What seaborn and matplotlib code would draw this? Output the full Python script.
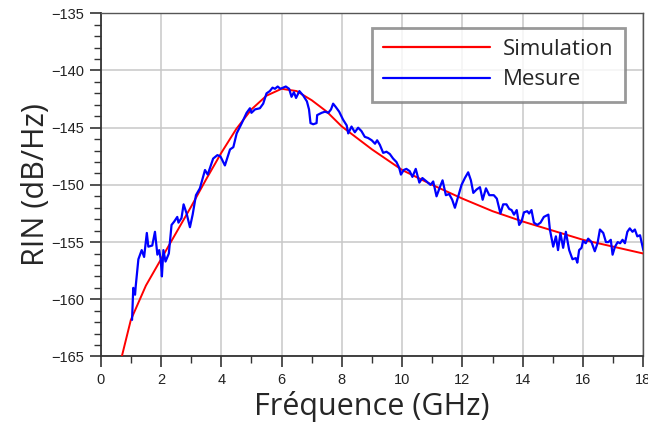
import matplotlib
matplotlib.use("Agg")
import matplotlib.pyplot as plt
import seaborn as sns
import pandas as pd
from matplotlib.ticker import MultipleLocator

# ---- data ----
sim_freq = [0.70, 1.0, 1.5, 2.0, 2.5, 3.0, 3.5, 4.0, 4.5, 5.0, 5.5, 6.0, 6.5,
            7.0, 7.5, 8.0, 8.5, 9.0, 9.5, 10, 11, 12, 13, 14, 15, 16, 17, 18]
sim_rin = [-165.0, -161.8, -158.8, -156.5, -154.2, -151.9, -149.5, -147.2,
           -145.1, -143.4, -142.2, -141.6, -141.8, -142.6, -143.6, -144.9,
           -145.9, -146.9, -147.8, -148.7, -150.0, -151.2, -152.3, -153.2,
           -154.0, -154.8, -155.4, -156.0]

meas_freq = [1.04, 1.08, 1.14, 1.16, 1.25, 1.36, 1.44, 1.53, 1.58, 1.71, 1.80,
             1.88, 1.94, 1.99, 2.03, 2.08, 2.15, 2.26, 2.35, 2.44, 2.54, 2.58,
             2.68, 2.75, 2.85, 2.96, 3.05, 3.16, 3.29, 3.46, 3.55, 3.73, 3.87,
             3.97, 4.12, 4.29, 4.40, 4.51, 4.68, 4.84, 4.95, 5.00, 5.12, 5.28,
             5.39, 5.50, 5.61, 5.70, 5.78, 5.87, 5.96, 6.14, 6.25, 6.33, 6.41,
             6.48, 6.59, 6.72, 6.84, 6.91, 6.96, 7.05, 7.16, 7.18, 7.33, 7.44,
             7.55, 7.64, 7.71, 7.80, 7.91, 8.04, 8.16, 8.21, 8.32, 8.43, 8.54,
             8.65, 8.76, 8.87, 8.99, 9.10, 9.17, 9.26, 9.37, 9.48, 9.59, 9.70,
             9.81, 9.90, 9.96, 10.05, 10.14, 10.25, 10.34, 10.45, 10.57, 10.67,
             10.81, 10.94, 11.03, 11.14, 11.25, 11.34, 11.45, 11.56, 11.66,
             11.75, 11.86, 11.97, 12.08, 12.19, 12.28, 12.36, 12.47, 12.58,
             12.67, 12.78, 12.89, 13.04, 13.14, 13.26, 13.35, 13.46, 13.55,
             13.63, 13.71, 13.80, 13.88, 13.96, 14.04, 14.15, 14.21, 14.29,
             14.37, 14.48, 14.59, 14.70, 14.85, 14.90, 15.01, 15.10, 15.17,
             15.25, 15.34, 15.43, 15.54, 15.65, 15.76, 15.81, 15.87, 15.95,
             16.00, 16.09, 16.17, 16.28, 16.39, 16.48, 16.56, 16.67, 16.76,
             16.84, 16.92, 16.98, 17.06, 17.15, 17.23, 17.31, 17.39, 17.47,
             17.55, 17.64, 17.72, 17.80, 17.89, 17.94, 18.00]
meas_rin = [-161.8, -159.0, -159.6, -158.9, -156.5, -155.7, -156.3, -154.2,
            -155.4, -155.3, -154.1, -156.1, -155.7, -156.5, -158.0, -155.7,
            -156.7, -156.0, -153.5, -153.2, -152.8, -153.3, -152.9, -151.7,
            -152.5, -153.7, -152.6, -150.9, -150.3, -148.7, -149.1, -147.7,
            -147.4, -147.5, -148.3, -146.9, -146.7, -145.5, -144.6, -143.7,
            -143.3, -143.7, -143.4, -143.3, -142.9, -142.0, -141.8, -141.5,
            -141.6, -141.4, -141.6, -141.4, -141.6, -142.3, -141.9, -142.4,
            -141.8, -142.2, -142.7, -143.4, -144.6, -144.7, -144.6, -143.9,
            -143.7, -143.6, -143.7, -143.4, -142.9, -143.2, -143.6, -144.3,
            -144.8, -145.5, -144.9, -145.4, -145.0, -145.3, -145.8, -145.9,
            -146.1, -146.4, -146.1, -146.5, -147.2, -147.1, -147.3, -147.7,
            -148.0, -148.5, -149.1, -148.7, -148.6, -148.8, -149.3, -148.6,
            -149.8, -149.4, -149.7, -150.0, -149.7, -151.0, -150.2, -149.6,
            -150.9, -150.8, -151.3, -152.0, -151.0, -150.0, -149.4, -148.9,
            -149.6, -150.7, -150.4, -150.2, -151.3, -150.3, -150.9, -150.9,
            -151.2, -152.5, -151.7, -151.7, -152.1, -152.2, -152.6, -152.2,
            -153.5, -153.2, -152.4, -152.3, -152.5, -152.2, -153.3, -153.5,
            -153.3, -152.8, -152.6, -153.9, -155.4, -154.5, -155.7, -154.2,
            -155.5, -154.1, -155.7, -156.5, -156.4, -156.8, -155.7, -155.5,
            -154.9, -155.1, -154.7, -155.0, -155.8, -155.1, -153.9, -154.2,
            -155.0, -155.0, -154.8, -156.1, -155.4, -155.0, -155.1, -154.8,
            -155.1, -154.1, -153.8, -154.1, -153.9, -154.5, -154.4, -155.0,
            -155.7]

series_labels = ["Simulation", "Mesure"]
x_label = "Fréquence (GHz)"
y_label = "RIN (dB/Hz)"

# ---- plot ----
sns.set_style("white")
plt.rcParams["font.family"] = ["Liberation Sans", "DejaVu Sans"]

fig = plt.figure(figsize=(6.48, 4.33), dpi=100)
ax = fig.add_axes([0.1554, 0.1767, 0.8374, 0.7926])

df_sim = pd.DataFrame({"f": sim_freq, "rin": sim_rin})
df_meas = pd.DataFrame({"f": meas_freq, "rin": meas_rin})

sns.lineplot(data=df_sim, x="f", y="rin", ax=ax, color="#ff0000",
             linewidth=1.4, label=series_labels[0], zorder=3)
sns.lineplot(data=df_meas, x="f", y="rin", ax=ax, color="#0000ff",
             linewidth=1.6, label=series_labels[1], zorder=4)

ax.set_xlim(0, 18)
ax.set_ylim(-165, -135)
ax.xaxis.set_major_locator(MultipleLocator(2))
ax.xaxis.set_minor_locator(MultipleLocator(1))
ax.yaxis.set_major_locator(MultipleLocator(5))
ax.yaxis.set_minor_locator(MultipleLocator(1))

ax.grid(True, which="major", color="#c8c8c8", linewidth=1.1)
ax.set_axisbelow(True)

ax.tick_params(axis="both", which="major", direction="out", length=8,
               width=1.2, color="#333333", labelsize=10.5, labelcolor="#222222",
               left=True, bottom=True, pad=4)
ax.tick_params(axis="both", which="minor", direction="out", length=5,
               width=1.0, color="#333333", left=True, bottom=True)

for side in ["left", "bottom"]:
    ax.spines[side].set_color("#333333")
    ax.spines[side].set_linewidth(1.3)
for side in ["top", "right"]:
    ax.spines[side].set_color("#555555")
    ax.spines[side].set_linewidth(1.0)

label_font = ["Open Sans", "DejaVu Sans"]
ax.set_xlabel(x_label, fontsize=22, family=label_font, labelpad=3)
ax.set_ylabel(y_label, fontsize=22, family=label_font, labelpad=0)

leg = ax.legend(loc="upper right", bbox_to_anchor=(0.966, 0.957),
                prop={"family": label_font, "size": 16},
                frameon=True, fancybox=False, handlelength=4.8,
                handletextpad=0.6, borderpad=0.5, labelspacing=0.42,
                borderaxespad=0.0)
leg.get_frame().set_edgecolor("#808080")
leg.get_frame().set_linewidth(2.0)
for line in leg.get_lines():
    line.set_linewidth(1.6)

fig.savefig("out.png", dpi=100)
